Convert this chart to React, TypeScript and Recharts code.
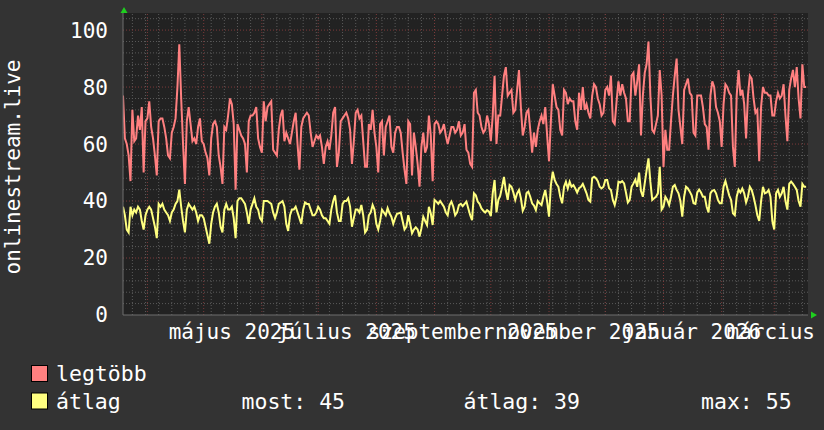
import { CartesianGrid, Line, LineChart, ReferenceLine, XAxis, YAxis } from "recharts"

// daily values, first day 2025-03-19
const startDate = Date.UTC(2025, 2, 19)

const legtobb = [
  77, 62, 60, 56, 47, 72, 61, 62, 70, 65, 73, 50, 68, 69, 75, 66, 62, 56, 49, 68,
  69, 69, 66, 62, 56, 55, 64, 66, 69, 80, 95, 76, 60, 46, 68, 73, 67, 61, 62, 60,
  66, 69, 61, 60, 57, 55, 49, 62, 67, 68, 66, 56, 52, 46, 66, 65, 70, 76, 74, 67,
  44, 67, 65, 63, 62, 60, 50, 68, 70, 70, 71, 73, 62, 59, 57, 75, 68, 73, 74, 75,
  58, 57, 56, 65, 70, 72, 61, 64, 62, 60, 64, 68, 71, 60, 51, 66, 69, 70, 71, 70,
  64, 59, 61, 63, 62, 63, 59, 53, 59, 61, 58, 63, 71, 73, 52, 57, 68, 69, 70, 71,
  69, 65, 53, 61, 71, 72, 69, 70, 61, 52, 52, 67, 65, 72, 64, 59, 50, 67, 68, 56,
  66, 68, 70, 59, 57, 64, 66, 66, 64, 57, 51, 46, 68, 67, 49, 64, 59, 53, 45, 59,
  64, 57, 59, 70, 63, 47, 67, 68, 67, 64, 65, 67, 63, 60, 63, 66, 66, 64, 65, 68,
  63, 64, 67, 58, 57, 53, 52, 78, 79, 71, 70, 66, 64, 65, 70, 67, 61, 70, 84, 60,
  70, 70, 77, 84, 87, 77, 78, 79, 71, 72, 79, 86, 73, 63, 66, 71, 72, 65, 57, 64,
  59, 65, 68, 70, 67, 73, 63, 54, 68, 81, 77, 73, 72, 65, 63, 79, 78, 74, 76, 75,
  75, 68, 65, 78, 72, 80, 72, 74, 71, 69, 77, 81, 80, 76, 74, 70, 71, 79, 80, 77,
  84, 68, 67, 75, 82, 77, 81, 78, 76, 68, 68, 84, 85, 77, 82, 88, 63, 77, 85, 88,
  96, 77, 65, 64, 67, 70, 86, 77, 52, 65, 58, 58, 68, 77, 84, 90, 72, 66, 60, 79,
  81, 83, 78, 77, 64, 63, 77, 77, 77, 73, 67, 66, 58, 77, 82, 80, 73, 71, 68, 59,
  74, 81, 80, 78, 77, 59, 52, 77, 86, 77, 79, 74, 62, 77, 84, 83, 76, 71, 72, 54,
  73, 80, 78, 78, 77, 77, 70, 70, 75, 78, 76, 77, 81, 70, 61, 79, 83, 86, 80, 87,
  76, 69, 88, 80, 80,
]

const atlag = [
  38, 35, 30, 29, 38, 35, 37, 36, 38, 37, 33, 30, 35, 37, 38, 37, 34, 31, 27, 39,
  38, 39, 37, 36, 35, 33, 36, 37, 39, 40, 44, 38, 33, 29, 37, 39, 38, 37, 38, 36,
  33, 35, 35, 34, 31, 28, 25, 32, 36, 38, 39, 36, 31, 29, 37, 39, 37, 37, 38, 34,
  27, 40, 41, 41, 40, 39, 36, 32, 37, 39, 41, 38, 37, 34, 33, 40, 40, 40, 39.5, 39,
  36, 34, 36, 39, 39.5, 40, 38, 32, 29.5, 35, 37, 37, 38, 36, 34, 32, 37, 39.5, 39, 39,
  37, 35, 35, 36, 38, 37, 35, 34, 34, 33, 32, 37, 40, 42, 36, 33, 33, 39, 40, 40,
  41, 38, 31, 34, 37, 37, 36, 38.6, 35, 29, 30, 35, 36, 38.6, 37, 32, 30, 33, 37, 36,
  35, 37.5, 35.7, 34.5, 32, 34, 35.5, 35.7, 36, 33, 30, 31, 35, 32, 28.7, 30, 30.8, 30, 27.5, 30.4,
  34.5, 33, 31.6, 38, 35.7, 31.6, 40.4, 39.8, 39, 40, 39, 38, 36, 35, 38.6, 39.8, 38, 35, 36, 38.6,
  39, 38.2, 39, 39.8, 37.4, 35, 33.3, 42.7, 42, 39.8, 39, 37.4, 36.6, 36, 36.8, 36.3, 34.7, 42.7, 47.4, 36,
  40.4, 41.9, 45, 48.5, 43.6, 40.4, 45.6, 45, 43, 40.4, 42.7, 43.9, 41, 36.6, 38, 42.7, 43.3, 41.5, 39.2, 38.4,
  36.8, 40, 39.2, 38.6, 41.5, 43.9, 39.8, 34.5, 45.6, 50.3, 47.4, 46, 45, 41.5, 39.2, 45, 46.8, 44.4, 46.8, 45,
  45.6, 44.4, 43, 44.5, 45, 46, 44.4, 42.7, 40.4, 39.8, 48, 48.5, 48, 47, 45, 44.4, 45, 47.4, 47.4, 44.5,
  43.9, 40.4, 38.6, 41.5, 46.8, 46.5, 47, 46.2, 43, 39.5, 40.4, 45, 46.2, 47.5, 45, 50, 43.5, 41.5, 46.2, 50.8,
  55, 46.8, 40.4, 41, 41.5, 42.7, 52, 37, 38, 41.5, 40.4, 38.6, 41.5, 45, 45.6, 43.9, 42.7, 40, 34.5, 41.5,
  45, 44.4, 43.3, 42, 39.2, 39, 43, 44, 43, 41.5, 41.5, 38, 36, 42.7, 43.6, 43.9, 42.7, 40.4, 39.2, 39.2,
  45, 47, 44.5, 42, 40.4, 35.7, 35, 41.5, 44, 43, 44.4, 42.7, 39.5, 41.5, 45, 43.9, 41.5, 38.5, 35, 33,
  40, 45, 42.7, 43, 43.9, 41.5, 33, 30, 42.7, 43.9, 41.5, 42.7, 45, 40, 37, 46, 46.8, 46, 45, 43.9,
  40, 38, 46, 45, 45,
]

// x axis labels (placed mid-month)
const tickDates = [[2025, 5, 16], [2025, 7, 16], [2025, 9, 16], [2025, 11, 16], [2026, 1, 16], [2026, 3, 16]]
const tickLabels = ["május 2025", "július 2025", "szeptember 2025", "november 2025", "január 2026", "március 2026"]
const yTicks = [0, 20, 40, 60, 80, 100]

const legendRows = [
  { label: "legtöbb", color: "#ff8080" },
  { label: "átlag", color: "#ffff80" },
]
const stats = ["most: 45", "átlag: 39", "max: 55"]

const DAY = 86400000
const dayOf = (y: number, m: number, d: number) => (Date.UTC(y, m - 1, d) - startDate) / DAY
const totalDays = dayOf(2026, 3, 19)

const data = legtobb.map((v, i) => ({ day: i, legtobb: v, atlag: atlag[i] }))
const tickDays = tickDates.map(([y, m, d]) => dayOf(y, m, d))

const monthStarts: number[] = []
for (let k = 0; k < 12; k++) monthStarts.push(dayOf(2025, 4 + k, 1))
const mondays: number[] = []
for (let d = dayOf(2025, 3, 24); d < totalDays; d += 7) mondays.push(d)
const minorY: number[] = []
for (let v = 4; v <= 104; v += 4) if (v % 20 !== 0) minorY.push(v)
const majorY = [20, 40, 60, 80, 100]

const font = "'DejaVu Sans Mono', monospace"
const minor = "#5a5a5a"
const major = "#7c3a3a"

export default function App() {
  return (
    <div style={{ position: "absolute", left: 0, top: 0, width: 824, height: 430, background: "#333333" }}>
      <LineChart width={824} height={430} data={data} margin={{ top: 13, right: 16, left: 0, bottom: 85 }}>
        <CartesianGrid fill="#222222" horizontal={false} vertical={false} />
        {minorY.map((v) => (
          <ReferenceLine key={"my" + v} y={v} stroke={minor} strokeDasharray="1 2" />
        ))}
        {mondays.map((d) => (
          <ReferenceLine key={"mx" + d} x={d} stroke={minor} strokeDasharray="1 2" />
        ))}
        {majorY.map((v) => (
          <ReferenceLine key={"My" + v} y={v} stroke={major} strokeDasharray="1 2" />
        ))}
        {monthStarts.map((d) => (
          <ReferenceLine key={"Mx" + d} x={d} stroke={major} strokeDasharray="1 2" />
        ))}
        <XAxis
          dataKey="day"
          type="number"
          domain={[0, totalDays]}
          ticks={tickDays}
          interval={0}
          tickFormatter={(v: number) => tickLabels[tickDays.indexOf(v)]}
          tick={{ fill: "#ffffff", fontSize: 21, fontFamily: font }}
          tickLine={false}
          tickSize={6}
          tickMargin={3}
          height={30}
          axisLine={{ stroke: "#6e6e6e" }}
          allowDataOverflow
        />
        <YAxis
          type="number"
          domain={[0, 106]}
          ticks={yTicks}
          interval={0}
          tick={{ fill: "#ffffff", fontSize: 21, fontFamily: font }}
          tickLine={false}
          tickSize={6}
          tickMargin={9}
          width={123}
          axisLine={{ stroke: "#6e6e6e" }}
          allowDataOverflow
        />
        <Line type="linear" dataKey="legtobb" stroke="#ff8080" strokeWidth={2} dot={false} isAnimationActive={false} />
        <Line type="linear" dataKey="atlag" stroke="#ffff80" strokeWidth={2} dot={false} isAnimationActive={false} />
      </LineChart>
      <svg width={824} height={430} style={{ position: "absolute", left: 0, top: 0, pointerEvents: "none" }}>
        <text transform="translate(20,167) rotate(-90)" textAnchor="middle" fill="#ffffff" fontSize={21} fontFamily={font}>
          onlinestream.live
        </text>
        <polygon points="124,7 120.5,13 127.5,13" fill="#1fcf1f" />
        <polygon points="817,315 811,311.5 811,318.5" fill="#1fcf1f" />
        {legendRows.map((r, i) => (
          <g key={r.label}>
            <rect x={31.5} y={365.5 + i * 27.5} width={16} height={16} fill={r.color} stroke="#000" />
            <text x={56} y={381 + i * 27.5} fill="#ffffff" fontSize={21.5} fontFamily={font}>
              {r.label}
            </text>
          </g>
        ))}
        {stats.map((s, i) => (
          <text key={s} x={[241.5, 463.5, 701][i]} y={408.5} fill="#ffffff" fontSize={21.5} fontFamily={font}>
            {s}
          </text>
        ))}
      </svg>
    </div>
  )
}
